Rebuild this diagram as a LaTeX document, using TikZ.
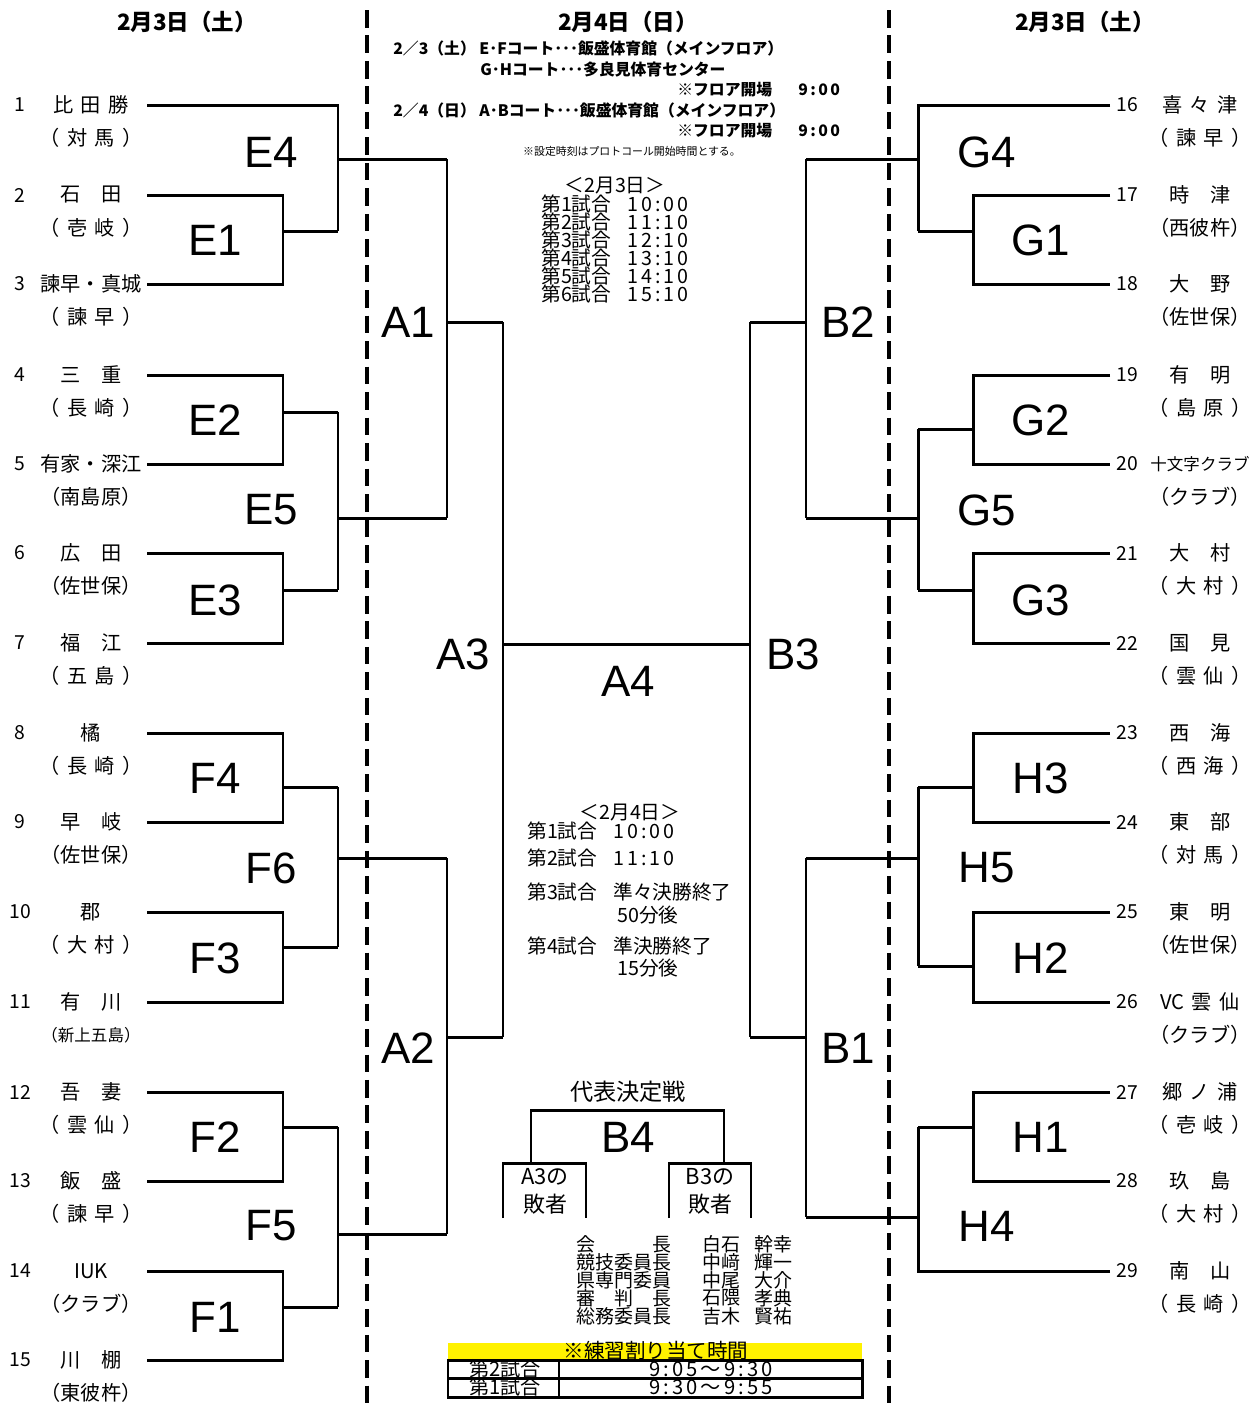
\documentclass[tikz,border=0pt]{standalone}
\usepackage{fontspec}
\setmainfont{Noto Sans CJK JP}
\newfontfamily\labfont{Liberation Sans}
\newfontfamily\timefont[LetterSpace=15]{Noto Sans CJK JP}
\usepackage{tikz}
\newcommand{\gp}{\hspace{4.2pt}}

\tikzset{
	brk/.style={line width=1.7pt},
	dashln/.style={line width=2.3pt,dash pattern=on 10pt off 4.5pt},
	rnd/.style={font=\labfont\fontsize{25}{25}\selectfont,inner sep=0pt},
	tm/.style={font=\fontsize{11.5}{12}\selectfont,inner sep=0pt},
	num/.style={font=\fontsize{11}{12}\selectfont,inner sep=0pt},
	hd/.style={font=\bfseries\fontsize{12.8}{13}\selectfont,inner sep=0pt},
	info/.style={font=\bfseries\fontsize{9}{9}\selectfont,inner sep=0pt,anchor=west},
	sched/.style={font=\fontsize{11.2}{11}\selectfont,inner sep=0pt,anchor=west},
	stime/.style={font=\timefont\fontsize{11.2}{11}\selectfont,inner sep=0pt,anchor=west},
	offc/.style={font=\fontsize{10.8}{11}\selectfont,inner sep=0pt,anchor=west},
	lost/.style={font=\fontsize{12.5}{13}\selectfont,inner sep=0pt},
}

\begin{document}
\begin{tikzpicture}[x=0.02cm,y=-0.02cm]
		\useasboundingbox (0,0) rectangle (1250,1411);
		
		% day headers
		\node[hd] (dl) at (187,22) {2月3日（土）};
		\node[hd] (dc) at (628,22) {2月4日（日）};
		\node[hd] (dr) at (1085,22) {2月3日（土）};
		
		% dashed separators
		\draw[dashln] (367,10) -- (367,1411);
		\draw[dashln] (889,10) -- (889,1411);
		
		% LEFT: teams 1-15
		\foreach \i/\y/\nm/\af in {
			1/105/比\gp{}田\gp{}勝/（\gp{}対\gp{}馬\gp{}）,
			2/195/石　田/（\gp{}壱\gp{}岐\gp{}）,
			3/284/諫早・真城/（\gp{}諫\gp{}早\gp{}）,
			4/375/三　重/（\gp{}長\gp{}崎\gp{}）,
			5/464/有家・深江/（南島原）,
			6/553/広　田/（佐世保）,
			7/643/福　江/（\gp{}五\gp{}島\gp{}）,
			8/733/橘/（\gp{}長\gp{}崎\gp{}）,
			9/822/早　岐/（佐世保）,
			10/912/郡/（\gp{}大\gp{}村\gp{}）,
			11/1002/有　川/{\fontsize{9.4}{10}\selectfont （新上五島）},
			12/1092/吾　妻/（\gp{}雲\gp{}仙\gp{}）,
			13/1181/飯　盛/（\gp{}諫\gp{}早\gp{}）,
			14/1271/IUK/（クラブ）,
			15/1360/川　棚/（東彼杵）}{
			\node[num] (tk\i) at (20,\y) {\i};
			\node[tm] (tn\i) at (91,\y) {\nm};
			\node[tm] (ta\i) at (91,\y+33) {\af};
			\coordinate (t\i) at (147,\y);
		}
		
		% RIGHT: teams 16-29
		\foreach \i/\y/\nm/\af in {
			16/105/喜\gp{}々\gp{}津/（\gp{}諫\gp{}早\gp{}）,
			17/195/時　津/（西彼杵）,
			18/284/大　野/（佐世保）,
			19/375/有　明/（\gp{}島\gp{}原\gp{}）,
			20/464/{\fontsize{9.4}{10}\selectfont 十文字クラブ}/（クラブ）,
			21/553/大　村/（\gp{}大\gp{}村\gp{}）,
			22/643/国　見/（\gp{}雲\gp{}仙\gp{}）,
			23/733/西　海/（\gp{}西\gp{}海\gp{}）,
			24/822/東　部/（\gp{}対\gp{}馬\gp{}）,
			25/912/東　明/（佐世保）,
			26/1002/VC\gp{}雲\gp{}仙/（クラブ）,
			27/1092/郷\gp{}ノ\gp{}浦/（\gp{}壱\gp{}岐\gp{}）,
			28/1181/玖　島/（\gp{}大\gp{}村\gp{}）,
			29/1271/南　山/（\gp{}長\gp{}崎\gp{}）}{
			\node[num,anchor=west] (tk\i) at (1116,\y) {\i};
			\node[tm] (tn\i) at (1200,\y) {\nm};
			\node[tm] (ta\i) at (1200,\y+33) {\af};
			\coordinate (t\i) at (1110,\y);
		}
		
		% left brackets
		\foreach \a/\b/\o in {2/3/231,4/5/412,6/7/590,8/9/787,10/11/947,12/13/1127,14/15/1307}{
			\draw[brk] (t\a) -- ++(136,0) |- (t\b);
			\draw[brk] (283,\o) -- (338,\o);
		}
		\draw[brk] (t1) -| (338,231);
		\draw[brk] (338,412) -- (338,590);
		\draw[brk] (338,787) -- (338,947);
		\draw[brk] (338,1127) -- (338,1307);
		\foreach \o in {159,518,858,1234}{
			\draw[brk] (338,\o) -- (447,\o);
		}
		\draw[brk] (447,159) -- (447,518);
		\draw[brk] (447,858) -- (447,1234);
		\draw[brk] (447,322) -- (503,322);
		\draw[brk] (447,1037) -- (503,1037);
		\draw[brk] (503,322) -- (503,1037);
		\draw[brk] (503,644) -- (750,644);
		
		% right brackets
		\foreach \a/\b/\o in {17/18/231,19/20/429,21/22/590,23/24/787,25/26/966,27/28/1127}{
			\draw[brk] (t\a) -- ++(-137,0) |- (t\b);
			\draw[brk] (973,\o) -- (918,\o);
		}
		\draw[brk] (t16) -| (918,231);
		\draw[brk] (t29) -| (918,1127);
		\draw[brk] (918,429) -- (918,590);
		\draw[brk] (918,787) -- (918,966);
		\foreach \o in {159,518,858,1217}{
			\draw[brk] (918,\o) -- (806,\o);
		}
		\draw[brk] (806,159) -- (806,518);
		\draw[brk] (806,858) -- (806,1217);
		\draw[brk] (806,322) -- (750,322);
		\draw[brk] (806,1037) -- (750,1037);
		\draw[brk] (750,322) -- (750,1037);
		
		% round labels
		\foreach \m/\x/\y in {E4/271/152,E1/215/240,E2/215/420,E5/271/510,E3/215/600,
			F4/215/778,F6/271/868,F3/215/958,F2/215/1137,F5/271/1226,F1/215/1317,
			A1/408/322,A2/408/1048,A3/463/654,A4/628/681,B3/793/654,B2/848/322,B1/848/1048,
			G4/987/152,G1/1041/240,G2/1041/420,G5/987/510,G3/1041/600,
			H3/1041/778,H5/987/868,H2/1041/958,H1/1041/1137,H4/987/1226}{
			\node[rnd] (r\m) at (\x,\y) {\m};
		}
		
		% venue notes
		\node[info] (inf1) at (393,48) {2／3（土） E･Fコート･･･飯盛体育館（メインフロア）};
		\node[info] (inf2) at (480,69) {G･Hコート･･･多良見体育センター};
		\node[info] (inf3) at (677,90) {※フロア開場};
		\node[info,font=\timefont\bfseries\fontsize{9}{9}\selectfont] (inf3t) at (798,90) {9:00};
		\node[info] (inf4) at (393,110) {2／4（日） A･Bコート･･･飯盛体育館（メインフロア）};
		\node[info] (inf5) at (677,131) {※フロア開場};
		\node[info,font=\timefont\bfseries\fontsize{9}{9}\selectfont] (inf5t) at (798,131) {9:00};
		\node[inner sep=0pt,font=\fontsize{6.2}{7}\selectfont] (note) at (632,151) {※設定時刻はプロトコール開始時間とする。};
		
		% schedule day 1
		\node[sched,anchor=center] (s3) at (615,186) {＜2月3日＞};
		\foreach \k/\t/\y in {1/10:00/204,2/11:10/222,3/12:10/240,4/13:10/258,5/14:10/276,6/15:10/294}{
			\node[sched] (s3g\k) at (541,\y) {第\k{}試合};
			\node[stime] (s3t\k) at (627,\y) {\t};
		}
		
		% schedule day 2
		\node[sched,anchor=center] (s4) at (630,813) {＜2月4日＞};
		\node[sched] (s4g1) at (527,831) {第1試合};
		\node[stime] (s4t1) at (613,831) {10:00};
		\node[sched] (s4g2) at (527,858) {第2試合};
		\node[stime] (s4t2) at (613,858) {11:10};
		\node[sched] (s4g3) at (527,892) {第3試合};
		\node[sched] (s4t3) at (613,892) {準々決勝終了};
		\node[sched] (s4u3) at (617,915) {50分後};
		\node[sched] (s4g4) at (527,946) {第4試合};
		\node[sched] (s4t4) at (613,946) {準決勝終了};
		\node[sched] (s4u4) at (617,968) {15分後};
		
		% deciding match
		\node[inner sep=0pt,font=\fontsize{13.2}{14}\selectfont] (dtitle) at (628,1092) {代表決定戦};
		\node[rnd] (rB4) at (628,1137) {B4};
		\draw[brk] (531,1163) -- (531,1110) -- (724,1110) -- (724,1163);
		\draw[brk] (503,1218) -- (503,1163) -- (586,1163) -- (586,1218);
		\draw[brk] (669,1218) -- (669,1163) -- (751,1163) -- (751,1218);
		\node[lost] (lsA1) at (545,1177) {A3の};
		\node[lost] (lsA2) at (545,1204) {敗者};
		\node[lost] (lsB1) at (710,1177) {B3の};
		\node[lost] (lsB2) at (710,1204) {敗者};
		
		% officials
		\foreach \k/\r/\s/\g/\y in {1/会　　　長/白石/幹幸/1244,2/競技委員長/中﨑/輝一/1262,
			3/県専門委員/中尾/大介/1280,4/審　判　長/石隈/孝典/1298,5/総務委員長/吉木/賢祐/1316}{
			\node[offc] (of\k) at (576,\y) {\r};
			\node[offc] (os\k) at (702,\y) {\s};
			\node[offc] (og\k) at (754,\y) {\g};
		}
		
		% practice table
		\fill[yellow] (448,1343) rectangle (862,1360);
		\node[inner sep=0pt,font=\fontsize{11.7}{12}\selectfont] (ptitle) at (656,1351) {※練習割り当て時間};
		\node[inner sep=0pt,font=\fontsize{11.5}{12}\selectfont] (pg2) at (505,1369) {第2試合};
		\node[inner sep=0pt,font=\timefont\fontsize{11.5}{12}\selectfont] (pt2) at (711,1369) {9:05〜9:30};
		\node[inner sep=0pt,font=\fontsize{11.5}{12}\selectfont] (pg1) at (505,1387) {第1試合};
		\node[inner sep=0pt,font=\timefont\fontsize{11.5}{12}\selectfont] (pt1) at (711,1387) {9:30〜9:55};
		\draw[brk] (448,1360) rectangle (862,1397);
		\draw[brk] (448,1378) -- (862,1378);
		\draw[brk] (559,1360) -- (559,1397);
	\end{tikzpicture}
\end{document}
